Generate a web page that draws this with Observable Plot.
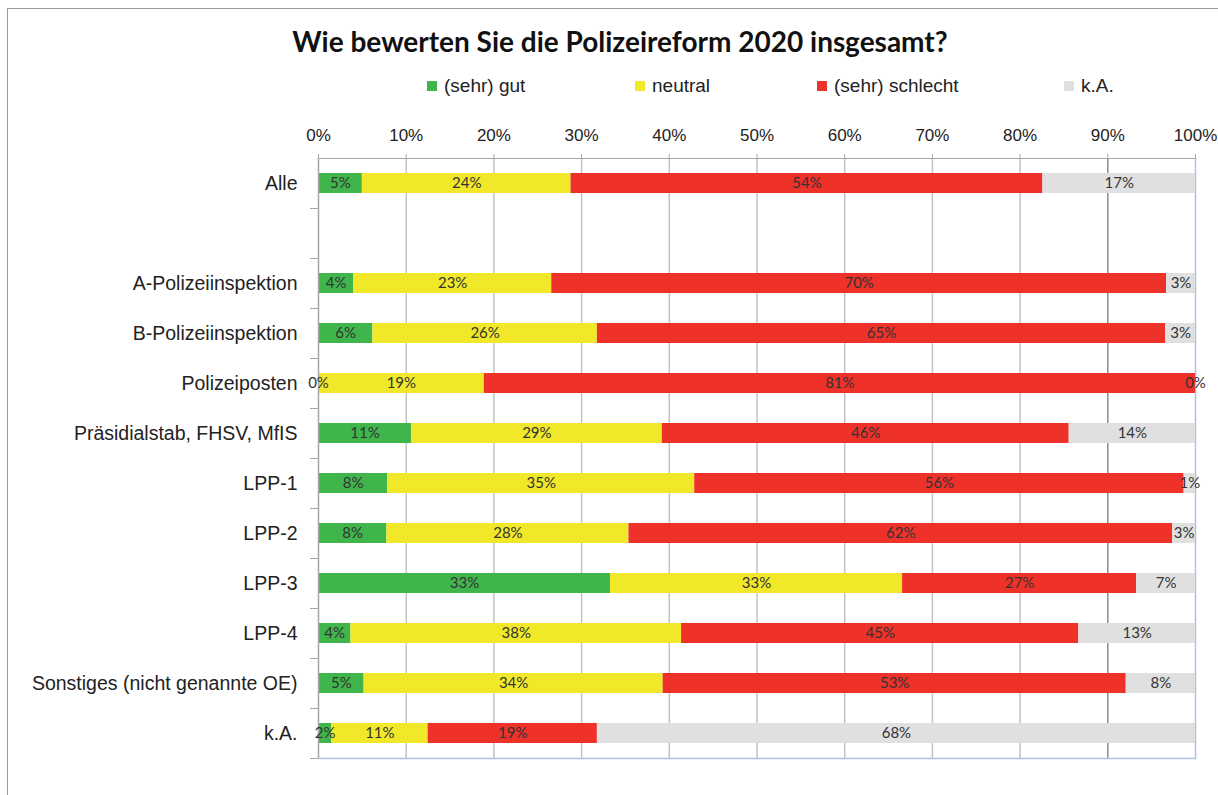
<!DOCTYPE html>
<html>
<head>
<meta charset="utf-8">
<script src="https://cdn.jsdelivr.net/npm/d3@7"></script>
<script src="https://cdn.jsdelivr.net/npm/@observablehq/plot@0.6"></script>
<style>
  body { margin: 0; background: #fff; font-family: "Liberation Sans", Arial, sans-serif; }
  #wrap { position: relative; width: 1218px; height: 795px; overflow: hidden; }
  #frame { position: absolute; left: 7px; top: 8px; width: 1300px; height: 900px;
           border-left: 1.5px solid #9a9a9a; border-top: 1.5px solid #9a9a9a; pointer-events: none; }
  #header { position: relative; height: 112px; }
  #title { position: absolute; left: 0; width: 1240px; top: 24px; text-align: center;
           font: bold 28px Lato, "Open Sans", sans-serif; color: #111; }
  .leg { position: absolute; top: 75px; height: 22px; font-size: 19px; color: #222;
         display: flex; align-items: center; white-space: nowrap; }
  .sw { width: 10px; height: 10px; margin-right: 7px; }
  #chart { position: relative; }
</style>
</head>
<body>
<div id="wrap">
  <div id="frame"></div>
  <div id="header">
    <div id="title">Wie bewerten Sie die Polizeireform 2020 insgesamt?</div>
    <div id="legend"></div>
  </div>
  <div id="chart"></div>
</div>
<script>
// ---- data ----
const groups = ["Alle", "A-Polizeiinspektion", "B-Polizeiinspektion", "Polizeiposten",
  "Präsidialstab, FHSV, MfIS", "LPP-1", "LPP-2", "LPP-3", "LPP-4",
  "Sonstiges (nicht genannte OE)", "k.A."];
// row order on the axis, with the empty spacer row after "Alle"
const axisRows = ["Alle", " ", "A-Polizeiinspektion", "B-Polizeiinspektion", "Polizeiposten",
  "Präsidialstab, FHSV, MfIS", "LPP-1", "LPP-2", "LPP-3", "LPP-4",
  "Sonstiges (nicht genannte OE)", "k.A."];
const responses = ["(sehr) gut", "neutral", "(sehr) schlecht", "k.A."];
const colors = ["#3fb54b", "#f0e828", "#ee3129", "#e0e0e0"];

const gut      = [5.0, 4.0, 6.2, 0.0, 10.6, 7.9, 7.8, 33.3, 3.7, 5.2, 1.5];
const neutral  = [23.8, 22.6, 25.6, 18.9, 28.6, 35.0, 27.6, 33.3, 37.7, 34.1, 11.0];
const schlecht = [53.8, 70.1, 64.8, 81.1, 46.4, 55.8, 62.0, 26.7, 45.3, 52.8, 19.3];
const keineA   = [17.4, 3.3, 3.4, 0.0, 14.4, 1.3, 2.6, 6.7, 13.3, 7.9, 68.2];

const xTicks = [0, 10, 20, 30, 40, 50, 60, 70, 80, 90, 100];
const gridTicks = [10, 20, 30, 40, 50, 60, 70, 80, 90, 100];

// ---- long table ----
const series = [gut, neutral, schlecht, keineA];
const data = [];
groups.forEach((g, i) => {
  responses.forEach((r, j) => data.push({cat: g, resp: r, value: series[j][i]}));
});

// ---- legend ----
const legendPos = [427, 635, 817, 1064];
const legend = document.getElementById("legend");
responses.forEach((r, j) => {
  const item = document.createElement("div");
  item.className = "leg";
  item.style.left = legendPos[j] + "px";
  item.innerHTML = `<div class="sw" style="background:${colors[j]}"></div><span>${r}</span>`;
  legend.appendChild(item);
});

// ---- chart ----
const font = "'Liberation Sans', Arial, sans-serif";
const chart = Plot.plot({
  width: 1218,
  height: 683,
  marginLeft: 318,
  marginRight: 23,
  marginTop: 46,
  marginBottom: 37,
  style: {fontFamily: font, background: "transparent", overflow: "visible"},
  x: {domain: [0, 100], label: null},
  y: {domain: axisRows, paddingInner: 0.6, paddingOuter: 0.3, label: null},
  color: {domain: responses, range: colors},
  marks: [
    Plot.ruleX(gridTicks, {
      stroke: d => d === 90 ? "#8c8c8c" : d === 100 ? "#a9c2e6" : "#c2c2c2",
      strokeWidth: 1.5
    }),
    Plot.frame({anchor: "bottom", stroke: "#a9c2e6", strokeWidth: 1.5}),
    Plot.frame({anchor: "top", stroke: "#a6a6a6", strokeWidth: 1}),
    Plot.barX(data, {x: "value", y: "cat", fill: "resp"}),
    Plot.ruleX([0], {stroke: "#a6a6a6", strokeWidth: 1.5}),
    Plot.text(data, Plot.stackX({
      x: "value", y: "cat", z: "resp",
      text: d => Math.round(d.value) + "%",
      fill: "#333", fontSize: 15, fontFamily: "Lato, 'Open Sans', sans-serif"
    })),
    Plot.axisX({anchor: "top", ticks: xTicks, tickFormat: d => d + "%", tickSize: 5,
      tickPadding: 13, fontSize: 17, color: "#222", stroke: "#a6a6a6", label: null}),
    Plot.axisY({tickSize: 0, tickPadding: 21, fontSize: 19.5, color: "#222", label: null}),
    Plot.axisY({tickSize: 8, dy: 25, tickFormat: () => "", stroke: "#a6a6a6", label: null})
  ]
});
document.getElementById("chart").appendChild(chart);
</script>
</body>
</html>
